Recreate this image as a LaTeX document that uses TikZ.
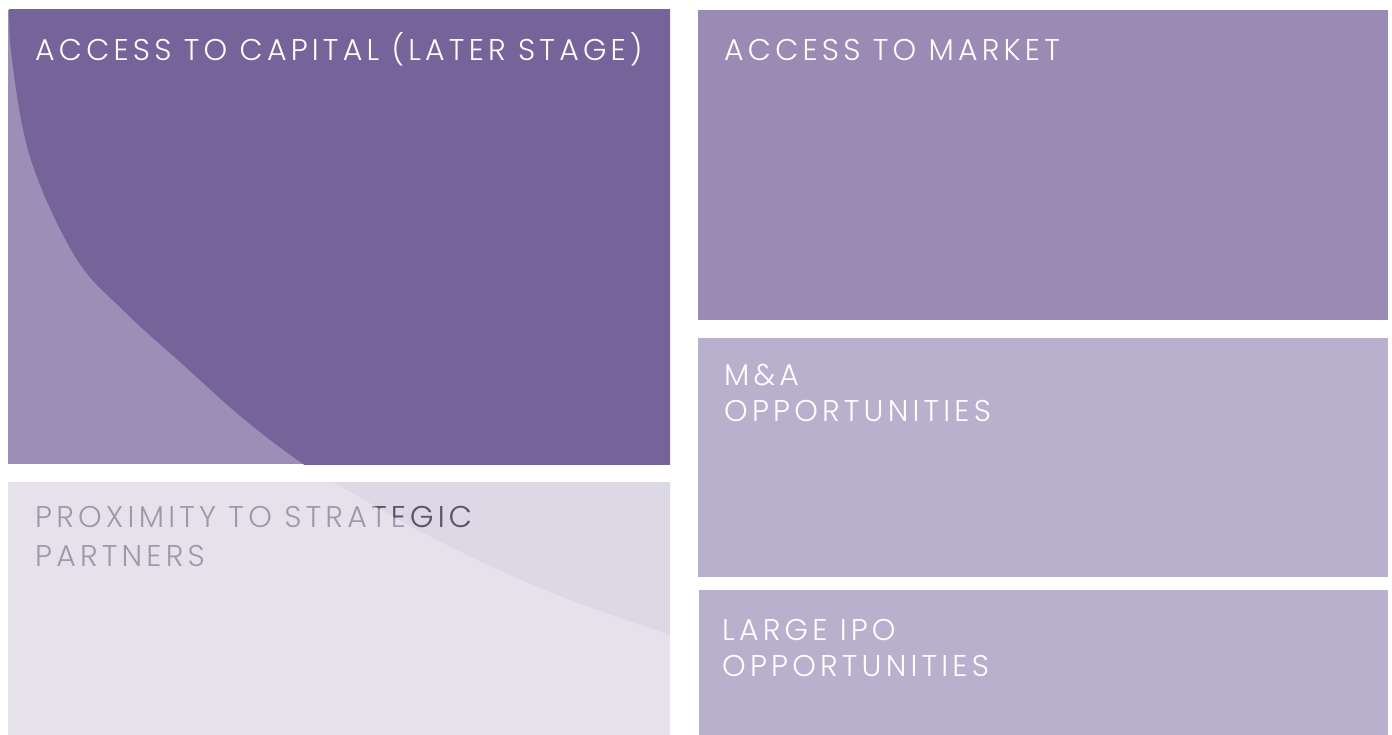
\documentclass[tikz,border=0pt]{standalone}
\usepackage{fontspec}
\newfontfamily\lblfont[LetterSpace=14]{Poppins Light}
\definecolor{cDark}{RGB}{117,99,154}
\definecolor{cLight}{RGB}{155,143,183}
\definecolor{cTopR}{RGB}{154,138,180}
\definecolor{cLowR}{RGB}{185,176,205}
\definecolor{cPale}{RGB}{229,226,236}
\definecolor{cBand}{RGB}{220,216,230}
\definecolor{cGrayTxt}{RGB}{158,152,170}
\definecolor{cDarkTxt}{RGB}{92,86,107}
\tikzset{
  lbl/.style={anchor=base west, inner sep=0pt, font=\lblfont\fontsize{30}{36}\selectfont},
  wlbl/.style={lbl, text=white},
}
\begin{document}
\begin{tikzpicture}[x=1pt,y=-1pt]
\useasboundingbox (0,0) rectangle (1392,735);
\def\curvepath{plot[smooth,tension=0.6] coordinates {(9,-20) (9,0) (12,60) (31,160) (76,258) (125,312) (180,362) (245,420) (303,464) (335,483) (435,539) (550,592) (670,635) (740,658)} -- (740,-20) -- cycle}
% top-left box
\fill[cLight] (8,10) rectangle (670,464);
\begin{scope}
  \clip (8,10) rectangle (670,464);
  \fill[cDark] \curvepath;
\end{scope}
% bottom-left box
\fill[cPale] (8,482) rectangle (670,735);
\begin{scope}
  \clip (8,482) rectangle (670,735);
  \fill[cBand] \curvepath;
\end{scope}
% right boxes
\fill[cTopR] (698,10) rectangle (1388,320);
\fill[cLowR] (698,338) rectangle (1388,577);
\fill[cLowR] (699,590) rectangle (1388,735);
% labels
\node[wlbl] (capital) at (35,61) {ACCESS TO CAPITAL (LATER STAGE)};
\node[wlbl] (market) at (724,61) {ACCESS TO MARKET};
\node[lbl, text=cGrayTxt] (prox1) at (35,527) {PROXIMITY TO STRATEGIC};
\node[lbl, text=cGrayTxt] (prox2) at (35,566) {PARTNERS};
\begin{scope}
  \clip (8,482) rectangle (670,735);
  \clip \curvepath;
  \node[lbl, text=cDarkTxt] (prox1d) at (35,527) {PROXIMITY TO STRATEGIC};
\end{scope}
\node[wlbl] (mna1) at (724,385) {M\&A};
\node[wlbl] (mna2) at (724,421) {OPPORTUNITIES};
\node[wlbl] (ipo1) at (722,640) {LARGE IPO};
\node[wlbl] (ipo2) at (722,676) {OPPORTUNITIES};
\end{tikzpicture}
\end{document}
